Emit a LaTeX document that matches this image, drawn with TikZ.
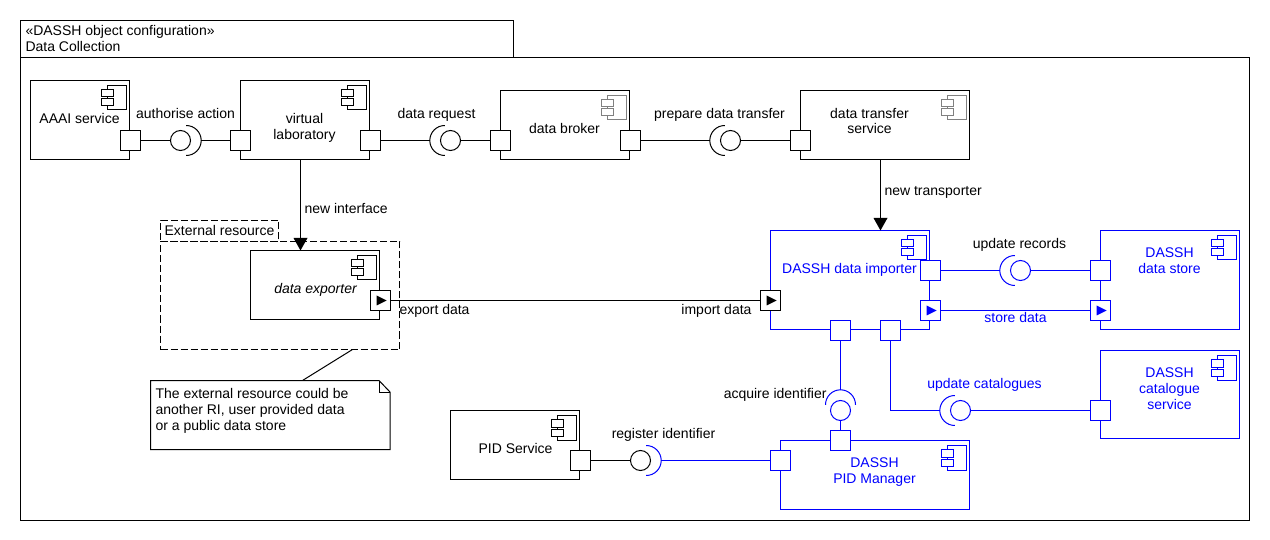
\documentclass[tikz,border=0pt]{standalone}
\usepackage{fontspec}
\setmainfont{Liberation Sans}
\definecolor{umlblue}{RGB}{0,0,255}
\tikzset{
  uml/.style={line width=1pt},
  compbox/.style={uml,draw,rectangle,fill=white,inner sep=0pt,outer sep=0pt},
  portbox/.style={uml,draw,rectangle,fill=white,inner sep=0pt,outer sep=0pt,minimum size=20pt},
  ball/.style={uml,draw,circle,fill=white,inner sep=0pt,outer sep=0pt,minimum size=20pt},
  wire/.style={uml,line join=miter},
  txt/.style={inner sep=0pt,outer sep=0pt,font=\fontsize{14}{16}\selectfont,text=black,align=center},
  btxt/.style={txt,text=umlblue},
  ltxt/.style={txt,align=left},
  dashframe/.style={uml,draw,dash pattern=on 7pt off 3pt},
}
% name, x1, y1, x2, y2, line colour, icon colour
\newcommand\compbox[7]{%
  \node[compbox,draw=#6,minimum width={(#4-#2)*1pt},minimum height={(#5-#3)*1pt}] (#1) at ({(#2+#4)/2},{(#3+#5)/2}) {};
  \draw[uml,draw=#7] ([shift={(-22.3,5)}]#1.north east) rectangle ([shift={(-3.3,29.5)}]#1.north east);
  \draw[uml,draw=#7,fill=white] ([shift={(-28.3,9)}]#1.north east) rectangle ([shift={(-16.3,16.5)}]#1.north east);
  \draw[uml,draw=#7,fill=white] ([shift={(-28.3,18.5)}]#1.north east) rectangle ([shift={(-16.3,25.5)}]#1.north east);
}
% name, x, y, colour
\newcommand\portat[4]{\node[portbox,draw=#4] (#1) at (#2,#3) {};}
\newcommand\flowport[4]{\node[portbox,draw=#4] (#1) at (#2,#3) {};
  \fill[#4] ([shift={(-4,-5)}]#1.center) -- ([shift={(6,0)}]#1.center) -- ([shift={(-4,5)}]#1.center) -- cycle;}
% name, x, y, direction of the socket opening side, ball colour, socket colour
\newcommand\socket[6]{%
  \node[ball,draw=#5] (#1) at (#2,#3) {};
  \coordinate (#1-c) at ($(#2,#3)+(#4:5.7)$);
  \coordinate (#1-a) at ($(#2,#3)+(#4:20.7)$);
  \draw[uml,draw=#6] ($(#1-c)+(#4-90:15)$) arc[start angle=#4-90,end angle=#4+90,radius=15];
}
\usetikzlibrary{calc}
\begin{document}
\begin{tikzpicture}[x=1pt,y=-1pt]
\path[use as bounding box,fill=white] (0,0) rectangle (1270,540);
\begin{scope}[shift={(0.5,0.5)}]
% frame
\node[compbox,minimum width=493pt,minimum height=37pt] (tab) at (266.5,38.5) {};
\node[compbox,minimum width=1229pt,minimum height=463pt] (frame) at (634.5,288.5) {};
\node[ltxt,anchor=base west] (stereo) at (25,35.5) {«DASSH object configuration»};
\node[ltxt,anchor=base west] (fname) at (25,51.5) {Data Collection};
% external resource
\node[dashframe,rectangle,inner sep=0pt,outer sep=0pt,minimum width=118pt,minimum height=21pt] (extab) at (219,230.5) {};
\node[dashframe,rectangle,inner sep=0pt,outer sep=0pt,minimum width=239pt,minimum height=108pt] (ext) at (279.5,295) {};
\node[txt,anchor=base] (extlab) at (219,235.5) {External resource};
% components
\compbox{aaai}{30}{80}{129}{159}{black}{black}
\compbox{vlab}{240}{80}{369}{159}{black}{black}
\compbox{broker}{500}{90}{629}{159}{black}{gray}
\compbox{transfer}{800}{90}{969}{159}{black}{gray}
\compbox{exporter}{250}{250}{379}{319}{black}{black}
\compbox{importer}{770}{230}{929}{329}{umlblue}{umlblue}
\compbox{store}{1100}{230}{1239}{329}{umlblue}{umlblue}
\compbox{catalogue}{1100}{350}{1239}{438}{umlblue}{umlblue}
\compbox{pidsvc}{450}{410}{579}{479}{black}{black}
\compbox{pidmgr}{780}{440}{969}{509}{umlblue}{umlblue}
% sockets and balls
\socket{sAuth}{180}{140}{0}{black}{black}
\socket{sReq}{450}{140}{180}{black}{black}
\socket{sPrep}{730}{140}{180}{black}{black}
\socket{sRec}{1020}{270}{180}{umlblue}{umlblue}
\socket{sCat}{960}{410}{180}{umlblue}{umlblue}
\socket{sAcq}{840}{410}{270}{umlblue}{umlblue}
\socket{sReg}{640}{460}{0}{black}{umlblue}
% ports
\coordinate (elbow) at (890,410);
\portat{pAaai}{130}{140}{black}
\portat{pVlabL}{240}{140}{black}
\portat{pVlabR}{370}{140}{black}
\portat{pBrokerL}{500}{140}{black}
\portat{pBrokerR}{630}{140}{black}
\portat{pTransfer}{800}{140}{black}
\flowport{pExport}{380}{300}{black}
\flowport{pImport}{770}{300}{black}
\portat{pImpRec}{930}{270}{umlblue}
\flowport{pImpStore}{930}{310}{umlblue}
\portat{pImpAcq}{840}{330}{umlblue}
\portat{pImpCat}{890}{330}{umlblue}
\portat{pStoreRec}{1100}{270}{umlblue}
\flowport{pStoreIn}{1100}{310}{umlblue}
\portat{pCat}{1100}{410}{umlblue}
\portat{pMgrTop}{840}{440}{umlblue}
\portat{pMgrL}{780}{460}{umlblue}
\portat{pSvc}{580}{460}{black}
% connectors
\draw[wire] (pAaai.east) -- (sAuth.west);
\draw[wire] (sAuth-a) -- (pVlabL.west);
\draw[wire] (pVlabR.east) -- (sReq-a);
\draw[wire] (sReq.east) -- (pBrokerL.west);
\draw[wire] (pBrokerR.east) -- (sPrep-a);
\draw[wire] (sPrep.east) -- (pTransfer.west);
\draw[wire] (pExport.east) -- (pImport.west);
\draw[wire,umlblue] (pImpRec.east) -- (sRec-a);
\draw[wire,umlblue] (sRec.east) -- (pStoreRec.west);
\draw[wire,umlblue] (pImpStore.east) -- (pStoreIn.west);
\draw[wire,umlblue] (pImpCat.south) -- (elbow) -- (sCat-a);
\draw[wire,umlblue] (sCat.east) -- (pCat.west);
\draw[wire,umlblue] (pImpAcq.south) -- (sAcq-a);
\draw[wire,umlblue] (sAcq.south) -- (pMgrTop.north);
\draw[wire] (pSvc.east) -- (sReg.west);
\draw[wire,umlblue] (sReg-a) -- (pMgrL.west);
% dependency arrows
\coordinate (vlabOut) at (300,159);
\coordinate (expIn) at (300,250);
\draw[wire] (vlabOut) -- (300,240);
\fill[black] (expIn) -- (293,237.5) -- (307,237.5) -- cycle;
\coordinate (transOut) at (880,159);
\coordinate (impIn) at (880,230);
\draw[wire] (transOut) -- (880,220);
\fill[black] (impIn) -- (873,217.5) -- (887,217.5) -- cycle;
% note
\coordinate (noteTip) at (352,349);
\coordinate (noteBase) at (302,380);
\draw[uml] (noteTip) -- (noteBase);
\draw[uml,fill=white] (150,380) -- (378.5,380) -- (389.5,391.5) -- (389.5,449) -- (150,449) -- cycle;
\draw[uml] (378.5,380) -- (378.5,391.5) -- (389.5,391.5);
\node[ltxt,anchor=base west] (note1) at (155,398) {The external resource could be};
\node[ltxt,anchor=base west] (note2) at (155,414) {another RI, user provided data};
\node[ltxt,anchor=base west] (note3) at (155,430) {or a public data store};
% labels
\node[txt,anchor=base] (tAaai) at (79,123) {AAAI service};
\node[txt,anchor=base] (tAuth) at (185,118) {authorise action};
\node[txt,anchor=base] (tVlab1) at (304,123) {virtual};
\node[txt,anchor=base] (tVlab2) at (304,139) {laboratory};
\node[txt,anchor=base] (tReq) at (436,118) {data request};
\node[txt,anchor=base] (tBroker) at (564,133) {data broker};
\node[txt,anchor=base] (tPrep) at (719,118) {prepare data transfer};
\node[txt,anchor=base] (tTr1) at (869,118) {data transfer};
\node[txt,anchor=base] (tTr2) at (869,133) {service};
\node[ltxt,anchor=base west] (tNewI) at (304,213) {new interface};
\node[ltxt,anchor=base west] (tNewT) at (884,195) {new transporter};
\node[txt,anchor=base,font=\fontsize{14}{16}\selectfont\itshape] (tExp) at (315,293) {data exporter};
\node[ltxt,anchor=base west] (tExpD) at (399,314) {export data};
\node[txt,anchor=base east] (tImpD) at (751,314) {import data};
\node[btxt,anchor=base] (tImp) at (849,273) {DASSH data importer};
\node[txt,anchor=base] (tRec) at (1019,248) {update records};
\node[btxt,anchor=base] (tSt1) at (1169,257) {DASSH};
\node[btxt,anchor=base] (tSt2) at (1169,273) {data store};
\node[btxt,anchor=base] (tStD) at (1015,322) {store data};
\node[btxt,anchor=base] (tUpC) at (984,388) {update catalogues};
\node[btxt,anchor=base] (tCa1) at (1169,377) {DASSH};
\node[btxt,anchor=base] (tCa2) at (1169,393) {catalogue};
\node[btxt,anchor=base] (tCa3) at (1169,409) {service};
\node[txt,anchor=base east] (tAcq) at (826,398) {acquire identifier};
\node[btxt,anchor=base] (tMg1) at (874,467) {DASSH};
\node[btxt,anchor=base] (tMg2) at (874,483) {PID Manager};
\node[txt,anchor=base] (tReg) at (663,438) {register identifier};
\node[txt,anchor=base] (tSvc) at (515,453) {PID Service};
\end{scope}
\end{tikzpicture}
\end{document}
